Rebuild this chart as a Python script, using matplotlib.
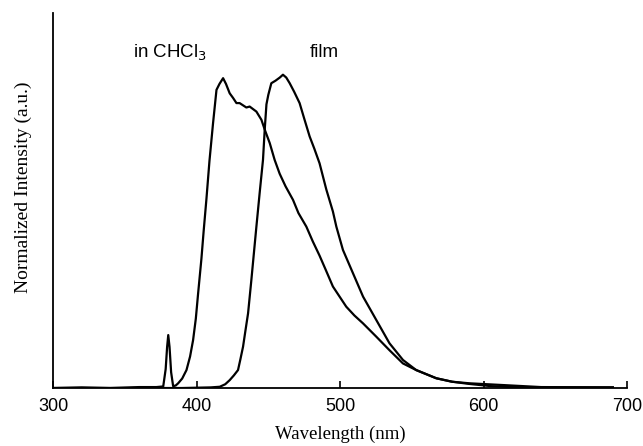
import matplotlib.pyplot as plt

# emission in chloroform (wavelength nm, normalized intensity)
sol_wl = [300, 320, 340, 360, 372, 376.8, 378.5, 379.5, 380.3, 381.2, 382.3, 383.7, 385.5,
          387.2, 390, 393, 395.5, 397.6, 399.5, 401.1, 403.4, 405, 406.9, 409, 411.5, 413.9,
          416, 418.5, 420.5, 423.1, 425.5, 427.8, 430, 434.7, 437, 441.7, 445.2, 447.5,
          451, 454.4, 457.9, 462, 467.2, 471, 476.5, 481, 485.7, 490, 495, 504.3, 510, 516,
          525.2, 534.4, 543.8, 553, 567, 578, 590, 605, 620, 650, 690]
sol_int = [0.0, 0.002, 0.0, 0.003, 0.003, 0.005, 0.06, 0.13, 0.168, 0.13, 0.05, 0.006, 0.008,
           0.015, 0.03, 0.057, 0.10, 0.152, 0.22, 0.30, 0.41, 0.50, 0.60, 0.72, 0.84,
           0.946, 0.965, 0.983, 0.965, 0.935, 0.92, 0.904, 0.904, 0.89, 0.893, 0.877,
           0.851, 0.82, 0.777, 0.724, 0.68, 0.64, 0.597, 0.555, 0.512, 0.465, 0.42, 0.375,
           0.322, 0.258, 0.23, 0.205, 0.163, 0.12, 0.078, 0.057, 0.031, 0.02, 0.013, 0.006,
           0.003, 0.002, 0.002]

# emission of the film
film_wl = [300, 350, 390, 400, 410, 416.2, 420, 423.1, 426, 428.9, 430.5, 432.4, 434,
           435.9, 438.2, 440, 441.7, 444, 446.3, 447.5, 448.7, 450, 452.1, 455, 458,
           460.2, 462.5, 464.9, 468, 471.8, 475, 478.8, 482, 485.7, 490.4, 495, 497.4,
           502, 509, 516, 525.2, 534.4, 543.8, 553, 567, 578, 590, 611, 640, 690]
film_int = [0.0, 0.0, 0.0, 0.001, 0.002, 0.004, 0.012, 0.025, 0.04, 0.057, 0.09, 0.131,
            0.18, 0.237, 0.343, 0.43, 0.512, 0.62, 0.724, 0.82, 0.90, 0.93, 0.967, 0.975,
            0.985, 0.994, 0.985, 0.967, 0.94, 0.904, 0.855, 0.798, 0.76, 0.713, 0.63,
            0.56, 0.512, 0.438, 0.364, 0.29, 0.216, 0.142, 0.089, 0.057, 0.031, 0.02,
            0.015, 0.01, 0.003, 0.002]

ticks = [300, 400, 500, 600, 700]

fig = plt.figure(figsize=(6.43, 4.46), dpi=100)
ax = fig.add_axes([0.0824, 0.130, 0.893, 0.841])

ax.plot(sol_wl, sol_int, color="black", lw=1.6)
ax.plot(film_wl, film_int, color="black", lw=1.6)

ax.set_xlim(300, 700)
ax.set_ylim(0, 1.19)
ax.set_xticks(ticks)
ax.set_xticklabels([str(t) for t in ticks], family="Liberation Sans", fontsize=13)
ax.tick_params(axis="x", direction="in", length=5, width=1.2, pad=7)
ax.set_yticks([])
ax.spines["top"].set_visible(False)
ax.spines["right"].set_visible(False)
ax.spines["left"].set_linewidth(1.3)
ax.spines["bottom"].set_linewidth(1.3)

ax.set_xlabel("Wavelength (nm)", family="Liberation Serif", fontsize=13.5, labelpad=8)
ax.set_ylabel("Normalized Intensity (a.u.)", family="Liberation Serif", fontsize=14)
ax.yaxis.set_label_coords(-0.037, 0.535)

ax.text(381.8, 1.063, r"in CHCl$_3$", family="Liberation Sans", fontsize=13.5,
        ha="center", va="center")
ax.text(488.9, 1.063, "film", family="Liberation Sans", fontsize=13.5,
        ha="center", va="center")

fig.savefig("out.png", dpi=100)
